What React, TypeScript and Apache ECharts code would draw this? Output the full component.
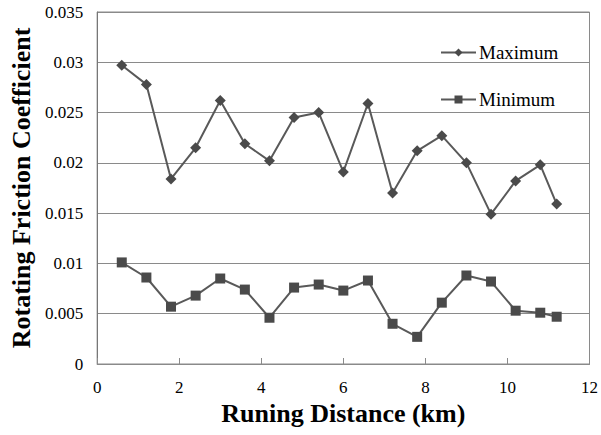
import React, { useEffect, useRef } from "react";
import * as echarts from "echarts";

const distance = [0.6, 1.2, 1.8, 2.4, 3.0, 3.6, 4.2, 4.8, 5.4, 6.0, 6.6, 7.2, 7.8, 8.4, 9.0, 9.6, 10.2, 10.8, 11.2];
const maximum = [0.0297, 0.0278, 0.0184, 0.0215, 0.0262, 0.0219, 0.0202, 0.0245, 0.025, 0.0191, 0.0259, 0.017, 0.0212, 0.0227, 0.02, 0.0149, 0.0182, 0.0198, 0.0159];
const minimum = [0.0101, 0.0086, 0.0057, 0.0068, 0.0085, 0.0074, 0.0046, 0.0076, 0.0079, 0.0073, 0.0083, 0.004, 0.0027, 0.0061, 0.0088, 0.0082, 0.0053, 0.0051, 0.0047];
const seriesNames = ["Maximum", "Minimum"];
const xTitle = "Runing Distance (km)";
const yTitle = "Rotating Friction Coefficient";

const FONT = "Liberation Serif";

export default function App() {
  const ref = useRef<HTMLDivElement>(null);
  useEffect(() => {
    if (!ref.current) return;
    const chart = echarts.init(ref.current, undefined, { renderer: "svg" });
    const lineColor = "#595959";
    const markColor = "#4a4a4a";
    chart.setOption({
      animation: false,
      backgroundColor: "#ffffff",
      grid: {
        left: 97,
        right: 11,
        top: 12,
        bottom: 71,
        show: true,
        borderColor: "#8a8a8a",
        borderWidth: 1,
      },
      legend: {
        orient: "vertical",
        left: 435,
        top: 38,
        itemGap: 28,
        itemWidth: 35,
        itemHeight: 10,
        textStyle: { fontFamily: FONT, fontSize: 19, color: "#000", padding: [0, 0, 0, -2] },
        data: seriesNames,
      },
      xAxis: {
        type: "value",
        min: 0,
        max: 12,
        interval: 2,
        name: xTitle,
        nameLocation: "middle",
        nameGap: 36,
        nameTextStyle: { fontFamily: FONT, fontSize: 26, fontWeight: "bold", color: "#000" },
        axisLine: { show: true, lineStyle: { color: "#8a8a8a", width: 1 } },
        axisTick: { show: true, inside: true, length: 6, lineStyle: { color: "#8a8a8a" } },
        axisLabel: { fontFamily: FONT, fontSize: 17, color: "#000", margin: 15 },
        splitLine: { show: false },
      },
      yAxis: {
        type: "value",
        min: 0,
        max: 0.035,
        interval: 0.005,
        name: yTitle,
        nameLocation: "middle",
        nameGap: 63,
        nameTextStyle: { fontFamily: FONT, fontSize: 26, fontWeight: "bold", color: "#000" },
        axisLine: { show: true, lineStyle: { color: "#777777", width: 1 } },
        axisTick: { show: false },
        axisLabel: { fontFamily: FONT, fontSize: 17, color: "#000", margin: 14 },
        splitLine: { show: true, lineStyle: { color: "#8a8a8a", width: 1 } },
      },
      series: [
        {
          name: seriesNames[0],
          type: "line",
          data: distance.map((d, i) => [d, maximum[i]]),
          symbol: "diamond",
          symbolSize: 11,
          lineStyle: { color: lineColor, width: 2 },
          itemStyle: { color: markColor, borderWidth: 0 },
        },
        {
          name: seriesNames[1],
          type: "line",
          data: distance.map((d, i) => [d, minimum[i]]),
          symbol: "rect",
          symbolSize: 10,
          lineStyle: { color: lineColor, width: 2 },
          itemStyle: { color: markColor, borderWidth: 0 },
        },
      ],
    });
    return () => chart.dispose();
  }, []);
  return <div ref={ref} style={{ width: 601, height: 435, position: "absolute", left: 0, top: 0 }} />;
}
